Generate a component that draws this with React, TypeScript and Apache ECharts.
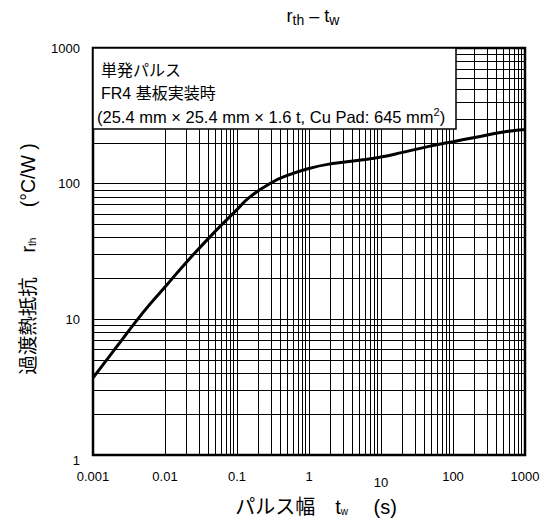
import React, { useEffect, useRef } from "react";
import * as echarts from "echarts";

const PULSE_WIDTH = [0.001, 0.002, 0.005, 0.01, 0.02, 0.05, 0.1, 0.15, 0.3, 0.5, 1, 2, 5, 10, 20, 50, 100, 200, 500, 1000];
const RTH = [3.7, 6.0, 11.3, 17.3, 26.5, 44.6, 64.3, 79.6, 101.5, 115, 129.5, 140, 149, 157, 170, 190, 204, 219, 240, 251];

const X_DECADES = [0.001, 0.01, 0.1, 1, 10, 100];
const Y_DECADES = [1, 10, 100];
const MINOR_MULT = [2, 3, 4, 5, 6, 7, 8, 9];
const X_TICK_LABELS = ["0.001", "0.01", "0.1", "1", "10", "100", "1000"];
const Y_TICK_LABELS = ["1", "10", "100", "1000"];

const FONT = "'Liberation Sans', Arial, 'Noto Sans CJK JP', sans-serif";

export default function App() {
  const ref = useRef<HTMLDivElement>(null);
  useEffect(() => {
    if (!ref.current) return;
    const chart = echarts.init(ref.current, null, { renderer: "svg" });
    const data = PULSE_WIDTH.map((t, i) => [t, RTH[i]]);
    const minorX: any[] = [];
    X_DECADES.forEach((d) => MINOR_MULT.forEach((m) => minorX.push({ xAxis: d * m })));
    const minorY: any[] = [];
    Y_DECADES.forEach((d) => MINOR_MULT.forEach((m) => minorY.push({ yAxis: d * m })));

    const option: any = {
      animation: false,
      backgroundColor: "#fff",
      grid: {
        left: 93,
        right: 20,
        top: 48,
        bottom: 73,
        show: true,
        borderColor: "#000",
        borderWidth: 2.5,
        backgroundColor: "transparent",
      },
      xAxis: {
        type: "log",
        logBase: 10,
        min: 0.001,
        max: 1000,
        axisLine: { show: false },
        axisTick: { show: false },
        splitLine: { show: true, lineStyle: { color: "#000", width: 1 } },
        axisLabel: {
          margin: 15,
          color: "#000",
          fontSize: 13,
          fontFamily: FONT,
          formatter: (v: number) => {
            const idx = Math.round(Math.log10(v)) + 3;
            const s = X_TICK_LABELS[idx] ?? String(v);
            return s === "10" ? "{low|" + s + "}" : s;
          },
          rich: { low: { fontSize: 13, fontFamily: FONT, color: "#000", padding: [6, 0, 0, 0] } },
        },
      },
      yAxis: {
        type: "log",
        logBase: 10,
        min: 1,
        max: 1000,
        axisLine: { show: false },
        axisTick: { show: false },
        splitLine: { show: true, lineStyle: { color: "#000", width: 1 } },
        axisLabel: {
          margin: 13,
          color: "#000",
          fontSize: 13,
          fontFamily: FONT,
          formatter: (v: number) => {
            const idx = Math.round(Math.log10(v));
            const s = Y_TICK_LABELS[idx] ?? String(v);
            return s === "1" ? "{low|" + s + "}" : s;
          },
          rich: { low: { fontSize: 13, fontFamily: FONT, color: "#000", padding: [10, 0, 0, 0] } },
        },
      },
      series: [
        {
          type: "line",
          data,
          smooth: 0.5,
          symbol: "none",
          lineStyle: { color: "#000", width: 3 },
          z: 5,
          markLine: {
            silent: true,
            symbol: ["none", "none"],
            label: { show: false },
            lineStyle: { color: "#000", width: 1, type: "solid" },
            emphasis: { disabled: true },
            data: [...minorX, ...minorY],
          },
        },
      ],
      graphic: [
        {
          type: "rect",
          z: 100,
          shape: { x: 93, y: 48, width: 363, height: 81 },
          style: { fill: "#fff", stroke: "#000", lineWidth: 1.5 },
        },
        {
          type: "text",
          z: 101,
          x: 101,
          y: 70,
          style: { text: "単発パルス", fontSize: 16, fontFamily: FONT, fill: "#000", verticalAlign: "middle" },
        },
        {
          type: "text",
          z: 101,
          x: 101,
          y: 93,
          style: { text: "FR4 基板実装時", fontSize: 16, fontFamily: FONT, fill: "#000", verticalAlign: "middle" },
        },
        {
          type: "text",
          z: 101,
          x: 97,
          y: 117,
          style: {
            text: "(25.4 mm × 25.4 mm × 1.6 t, Cu Pad: 645 mm{sup|2})",
            fontSize: 16.5,
            fontFamily: FONT,
            fill: "#000",
            verticalAlign: "middle",
            rich: { sup: { fontSize: 11, fontFamily: FONT, fill: "#000", padding: [0, 0, 11, 0] } },
          },
        },
        {
          type: "text",
          z: 101,
          x: 313,
          y: 16,
          style: {
            text: "r{sub|th} – t{sub|w}",
            fontSize: 18,
            fontFamily: FONT,
            fill: "#000",
            align: "center",
            verticalAlign: "middle",
            rich: { sub: { fontSize: 14, fontFamily: FONT, fill: "#000", padding: [8, 0, 0, 0] } },
          },
        },
        {
          type: "text",
          z: 101,
          x: 316,
          y: 507,
          style: {
            text: "パルス幅　t{sub|w}　 (s)",
            fontSize: 20,
            fontFamily: FONT,
            fill: "#000",
            align: "center",
            verticalAlign: "middle",
            rich: { sub: { fontSize: 10, fontFamily: FONT, fill: "#000", padding: [9, 0, 0, 0] } },
          },
        },
        {
          type: "text",
          z: 101,
          x: 28,
          y: 259,
          rotation: Math.PI / 2,
          style: {
            text: "過渡熱抵抗　 r{sub|th}　  (°C/W )",
            fontSize: 19.5,
            fontFamily: FONT,
            fill: "#000",
            align: "center",
            verticalAlign: "middle",
            rich: { sub: { fontSize: 10, fontFamily: FONT, fill: "#000", padding: [8, 0, 0, 0] } },
          },
        },
      ],
    };
    chart.setOption(option);
    return () => chart.dispose();
  }, []);
  return (
    <div
      ref={ref}
      style={{ position: "fixed", left: 0, top: 0, width: 545, height: 528, background: "#fff" }}
    />
  );
}
